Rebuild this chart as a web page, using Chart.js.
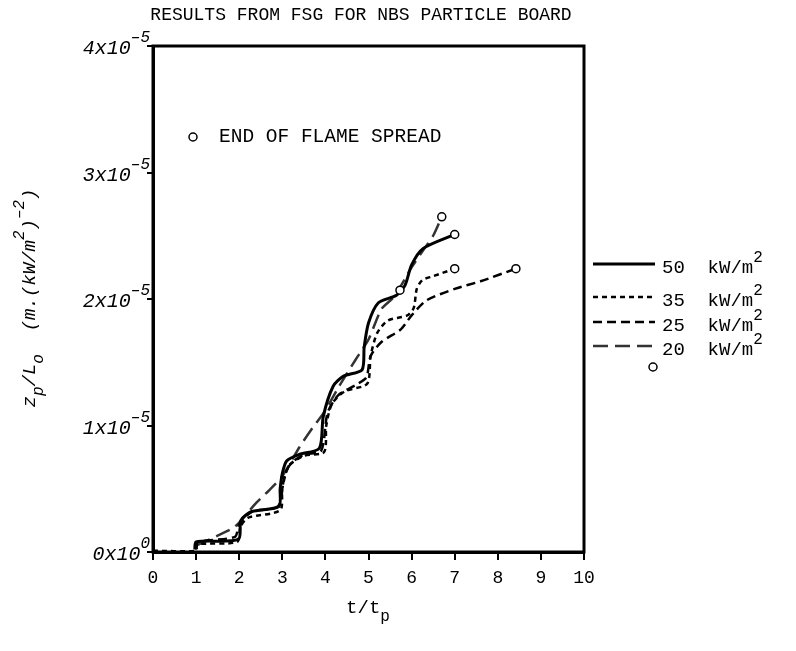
<!DOCTYPE html>
<html>
<head>
<meta charset="utf-8">
<script src="https://cdn.jsdelivr.net/npm/chart.js@4.4.1/dist/chart.umd.min.js"></script>
<style>
  html, body { margin: 0; padding: 0; background: #fff; }
  #wrap { width: 796px; height: 651px; }
</style>
</head>
<body>
<div id="wrap"><canvas id="fsgChart" width="796" height="651"></canvas></div>
<script>
// values are z_p/L_o in units of 1e-5 m.(kW/m^2)^-2, x is t/t_p
const x50 = [0.97, 1.0, 1.98, 2.04, 2.29, 2.92, 2.95, 3.0, 3.1, 3.38, 3.86, 3.95, 4.18, 4.42, 4.85, 4.9, 5.0, 5.23, 5.65, 5.85, 6.0, 6.27, 7.0];
const y50 = [0.02, 0.08, 0.1, 0.25, 0.32, 0.36, 0.5, 0.62, 0.72, 0.77, 0.82, 1.07, 1.31, 1.39, 1.44, 1.62, 1.81, 1.97, 2.03, 2.11, 2.27, 2.4, 2.51];

const x35 = [0, 1.0, 1.02, 1.95, 2.03, 2.2, 2.95, 3.0, 3.15, 3.5, 3.97, 4.02, 4.15, 4.45, 4.97, 5.05, 5.2, 5.45, 5.9, 6.05, 6.12, 6.25, 6.5, 7.0];
const y35 = [0.01, 0.01, 0.06, 0.08, 0.2, 0.27, 0.33, 0.5, 0.68, 0.76, 0.79, 1.0, 1.17, 1.27, 1.33, 1.55, 1.73, 1.83, 1.87, 1.93, 2.08, 2.15, 2.18, 2.24];

const x25 = [1.0, 1.05, 1.9, 2.0, 2.3, 2.9, 3.05, 3.2, 3.5, 3.9, 4.05, 4.3, 4.7, 4.95, 5.05, 5.3, 5.75, 6.0, 6.35, 7.0, 7.6, 8.42];
const y25 = [0.02, 0.08, 0.12, 0.22, 0.32, 0.36, 0.6, 0.7, 0.77, 0.8, 1.1, 1.24, 1.32, 1.38, 1.55, 1.66, 1.76, 1.87, 1.99, 2.08, 2.14, 2.24];

const x20 = [1.0, 1.5, 1.9, 2.4, 2.7, 3.0, 3.4, 3.7, 4.0, 4.3, 4.7, 5.0, 5.3, 5.6, 6.0, 6.3, 6.5, 6.7];
const y20 = [0.05, 0.13, 0.2, 0.39, 0.49, 0.6, 0.83, 0.98, 1.12, 1.3, 1.52, 1.68, 1.92, 2.02, 2.25, 2.4, 2.5, 2.65];

// end of flame spread markers
const xEnd = [6.7, 7.0, 7.0, 8.42, 5.73];
const yEnd = [2.65, 2.51, 2.24, 2.24, 2.07];

const yTicks = [0, 1, 2, 3, 4];
const yTickMant = ['0x10', '1x10', '2x10', '3x10', '4x10'];
const yTickExp = ['0', '\u20135', '\u20135', '\u20135', '\u20135'];

const legendLabels = ['50  kW/m', '35  kW/m', '25  kW/m', '20  kW/m'];

const MONO = '"Liberation Mono", "DejaVu Sans Mono", monospace';

const pts = (xs, ys) => xs.map((x, i) => ({ x: x, y: ys[i] }));

const styles = [
  { color: '#000', width: 3, dash: [] },
  { color: '#000', width: 2.5, dash: [5, 4] },
  { color: '#000', width: 2.5, dash: [9, 5] },
  { color: '#333', width: 2.5, dash: [15, 7] }
];

// draws text with sub/superscript pieces, returns width
function richText(ctx, parts, x, y, size, italic, align) {
  const big = (italic ? 'italic ' : '') + size + 'px ' + MONO;
  const small = (italic ? 'italic ' : '') + Math.round(size * 0.82) + 'px ' + MONO;
  let total = 0;
  parts.forEach(p => {
    ctx.font = p[1] === 'n' ? big : small;
    total += ctx.measureText(p[0]).width;
  });
  let cx = align === 'center' ? x - total / 2 : align === 'right' ? x - total : x;
  ctx.textAlign = 'left';
  ctx.textBaseline = 'middle';
  parts.forEach(p => {
    ctx.font = p[1] === 'n' ? big : small;
    let dy = 0;
    if (p[1] === 'sub') dy = size * 0.45;
    if (p[1] === 'sup') dy = -size * 0.55;
    ctx.fillText(p[0], cx, y + dy);
    cx += ctx.measureText(p[0]).width;
  });
  return total;
}

const decor = {
  id: 'decor',
  afterDraw(chart) {
    const ctx = chart.ctx;
    const a = chart.chartArea;
    const ys = chart.scales.y;
    ctx.save();
    ctx.fillStyle = '#000';
    ctx.strokeStyle = '#000';

    // frame
    ctx.lineWidth = 3;
    ctx.strokeRect(a.left, a.top, a.right - a.left, a.bottom - a.top);

    // title
    ctx.font = '18px ' + MONO;
    ctx.textAlign = 'center';
    ctx.textBaseline = 'middle';
    ctx.fillText('RESULTS FROM FSG FOR NBS PARTICLE BOARD', 361, 15);

    // y tick labels
    yTicks.forEach((v, i) => {
      const py = ys.getPixelForValue(v);
      richText(ctx, [[yTickMant[i], 'n'], [yTickExp[i], 'sup']], 150, py + 3, 20, true, 'right');
    });

    // y title
    ctx.save();
    ctx.translate(30, 298);
    ctx.rotate(-Math.PI / 2);
    richText(ctx, [['z', 'n'], ['p', 'sub'], ['/L', 'n'], ['o', 'sub'], ['  (m.(kW/m', 'n'], ['2', 'sup'], [')', 'n'], ['\u20132', 'sup'], [')', 'n']], 0, 0, 19, true, 'center');
    ctx.restore();

    // x title
    richText(ctx, [['t/t', 'n'], ['p', 'sub']], 368, 608, 19, false, 'center');

    // note inside plot
    ctx.lineWidth = 1.5;
    ctx.beginPath();
    ctx.arc(193, 137, 4, 0, Math.PI * 2);
    ctx.stroke();
    ctx.font = '19.5px ' + MONO;
    ctx.textAlign = 'left';
    ctx.textBaseline = 'middle';
    ctx.fillText('END OF FLAME SPREAD', 219, 137);

    // legend
    const rowsY = [264, 297, 322, 346];
    styles.forEach((s, i) => {
      ctx.strokeStyle = s.color;
      ctx.lineWidth = s.width;
      ctx.setLineDash(s.dash);
      ctx.beginPath();
      ctx.moveTo(593, rowsY[i]);
      ctx.lineTo(655, rowsY[i]);
      ctx.stroke();
      ctx.setLineDash([]);
      ctx.fillStyle = '#000';
      richText(ctx, [[legendLabels[i], 'n'], ['2', 'sup']], 662, rowsY[i] + 4, 19, false, 'left');
    });
    ctx.strokeStyle = '#000';
    ctx.lineWidth = 1.5;
    ctx.beginPath();
    ctx.arc(653, 367, 4, 0, Math.PI * 2);
    ctx.stroke();
    ctx.restore();
  }
};

const lineSets = [[x50, y50], [x35, y35], [x25, y25], [x20, y20]].map((d, i) => ({
  label: legendLabels[i] + '2',
  data: pts(d[0], d[1]),
  borderColor: styles[i].color,
  borderWidth: styles[i].width,
  borderDash: styles[i].dash,
  pointRadius: 0,
  fill: false,
  tension: 0.25,
  order: 1
}));

new Chart(document.getElementById('fsgChart').getContext('2d'), {
  type: 'line',
  data: {
    datasets: lineSets.concat([{
      label: 'end',
      data: pts(xEnd, yEnd),
      showLine: false,
      pointRadius: 4,
      pointBorderWidth: 1.5,
      pointBorderColor: '#000',
      pointBackgroundColor: '#fff',
      order: 0
    }])
  },
  options: {
    responsive: false,
    animation: false,
    layout: { padding: { top: 46, right: 212, left: 0, bottom: 0 } },
    plugins: { legend: { display: false }, tooltip: { enabled: false } },
    scales: {
      x: {
        type: 'linear',
        min: 0,
        max: 10,
        ticks: { stepSize: 1, color: '#000', font: { family: MONO, size: 18 }, padding: 7, maxRotation: 0 },
        grid: { drawOnChartArea: false, drawTicks: true, tickLength: 8, color: '#000', lineWidth: 2 },
        border: { display: true, color: '#000', width: 3 },
        afterFit: s => { s.height = 99; }
      },
      y: {
        type: 'linear',
        min: 0,
        max: 4,
        ticks: { stepSize: 1, display: false },
        grid: { drawOnChartArea: false, drawTicks: true, tickLength: 6, color: '#000', lineWidth: 2 },
        border: { display: true, color: '#000', width: 3 },
        afterFit: s => { s.width = 153; }
      }
    }
  },
  plugins: [decor]
});
</script>
</body>
</html>
